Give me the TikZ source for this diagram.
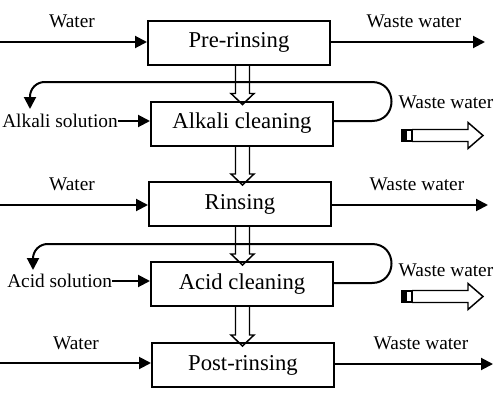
\documentclass[tikz,border=0pt]{standalone}
\usepackage{fontspec}
\setmainfont{Liberation Serif}
\usetikzlibrary{arrows.meta,calc}
\begin{document}
\begin{tikzpicture}[x=0.75pt,y=-0.75pt,
  proc/.style={draw,line width=1.5pt,minimum width=136.5pt,minimum height=33pt,inner sep=0pt,font=\fontsize{17}{19}\selectfont},
  lbl/.style={inner sep=0pt,font=\fontsize{14.5}{16}\selectfont},
  flow/.style={line width=1.5pt,-{Triangle[length=9pt,width=9pt]}},
  hollow/.style={line width=1.1pt,line join=miter},
]
\useasboundingbox (0,0) rectangle (500,400);
% process boxes
\node[proc] (pre)  at (239,42.5)  {Pre-rinsing};
\node[proc] (alk)  at (242,123.5) {Alkali cleaning};
\node[proc] (rin)  at (240,204)   {Rinsing};
\node[proc] (acid) at (242,284)   {Acid cleaning};
\node[proc] (post) at (243,365)   {Post-rinsing};
\coordinate (ax) at (242.5,0);
% hollow arrows between boxes
\foreach \a/\b in {pre/alk,alk/rin,rin/acid,acid/post}{
  \draw[hollow] ($(ax |- \a.south)+(-7,0)$) -- ($(ax |- \b.north)+(-7,-7)$)
    -- ($(ax |- \b.north)+(-11.5,-7)$) -- ($(ax |- \b.north)+(0,4)$)
    -- ($(ax |- \b.north)+(11.5,-7)$) -- ($(ax |- \b.north)+(7,-7)$)
    -- ($(ax |- \a.south)+(7,0)$);
}
% water in / waste water out
\coordinate (w1) at (0,42);
\coordinate (o1) at (485,42);
\node[lbl] (lw1) at (72,21) {Water};
\node[lbl] (lo1) at (414,21) {Waste water};
\draw[flow] (w1) -- (pre.west |- w1);
\draw[flow] (pre.east |- o1) -- (o1);

\coordinate (w3) at (0,205);
\coordinate (o3) at (488,205);
\node[lbl] (lw3) at (72,184) {Water};
\node[lbl] (lo3) at (417,184) {Waste water};
\draw[flow] (w3) -- (rin.west |- w3);
\draw[flow] (rin.east |- o3) -- (o3);

\coordinate (w5) at (0,363);
\coordinate (o5) at (493,364);
\node[lbl] (lw5) at (76,343) {Water};
\node[lbl] (lo5) at (421,343) {Waste water};
\draw[flow] (w5) -- (post.west |- w5);
\draw[flow] (post.east |- o5) -- (o5);

% alkali loop
\node[lbl,anchor=west] (as) at (2,121) {Alkali solution};
\draw[flow] (as.east) -- (alk.west |- as.east);
\coordinate (ar) at (333,121);
\coordinate (ad) at (30,109);
\draw[flow] (ar) -- (372,121) .. controls (398,121) and (398,82) .. (372,82)
  [rounded corners=11pt] -- (30,82) -- (ad);
\node[lbl] (aw) at (446,102) {Waste water};
\draw[line width=1pt,fill=black] (402,130) rectangle (406,141);
\draw[line width=1pt] (406,130) rectangle (412,141);
\draw[hollow] (412,129.5) -- (468,129.5) -- (468,122.5) -- (483,135.5) -- (468,148.5) -- (468,141.5) -- (412,141.5);

% acid loop
\node[lbl,anchor=west] (cs) at (7,281) {Acid solution};
\draw[flow] (cs.east) -- (acid.west |- cs.east);
\coordinate (cr) at (333,283);
\coordinate (cd) at (33,270);
\draw[flow] (cr) -- (372,283) .. controls (398,283) and (398,244) .. (372,244)
  [rounded corners=11pt] -- (33,244) -- (cd);
\node[lbl] (cw) at (446,270) {Waste water};
\draw[line width=1pt,fill=black] (402,291) rectangle (406,302);
\draw[line width=1pt] (406,291) rectangle (412,302);
\draw[hollow] (412,290.5) -- (468,290.5) -- (468,283.5) -- (483,296.5) -- (468,309.5) -- (468,302.5) -- (412,302.5);
\end{tikzpicture}
\end{document}
